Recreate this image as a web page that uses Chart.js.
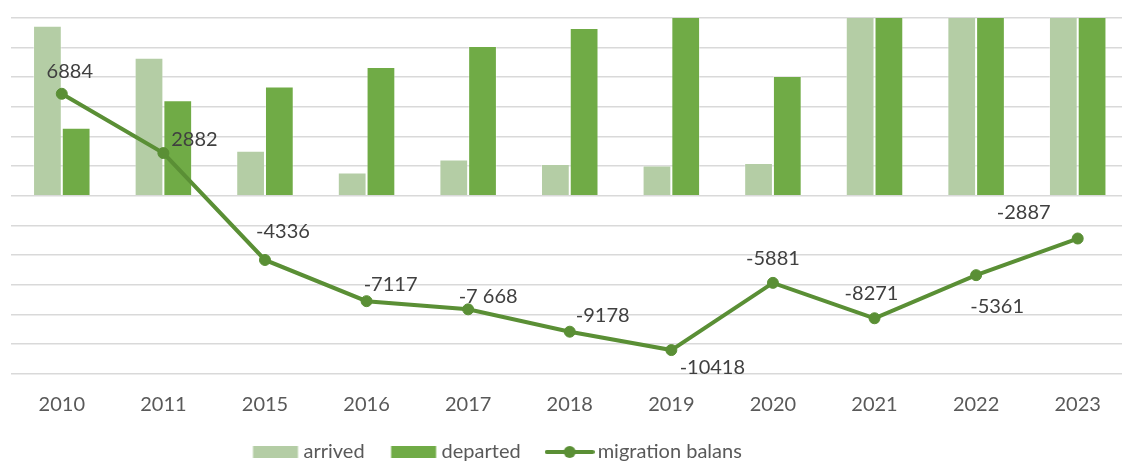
<!DOCTYPE html>
<html>
<head>
<meta charset="utf-8">
<script src="https://cdn.jsdelivr.net/npm/chart.js@4.4.0/dist/chart.umd.min.js"></script>
<style>
  html, body { margin: 0; padding: 0; background: #fff; overflow: hidden; }
</style>
</head>
<body>
<canvas id="migrationChart" width="1135" height="462"></canvas>
<script>
// data
let years = ["2010", "2011", "2015", "2016", "2017", "2018", "2019", "2020", "2021", "2022", "2023"];
let arrived = [11480, 9322, 3040, 1577, 2450, 2140, 2050, 2205, 14500, 15200, 16800];
let departed = [4596, 6440, 7376, 8694, 10118, 11318, 12468, 8086, 22771, 20561, 19687];
let balans = [6884, 2882, -4336, -7117, -7668, -9178, -10418, -5881, -8271, -5361, -2887];
let balansText = ["6884", "2882", "-4336", "-7117", "-7 668", "-9178", "-10418", "-5881", "-8271", "-5361", "-2887"];

// where each value label sits relative to its point (dx, dy)
let labelOffsets = [[8, -22], [31, -14], [18, -28], [24, -17], [20, -13], [33, -16], [41, 17], [0, -24], [-3, -25], [21, 31], [-54, -26]];

const arrivedColor = '#b4cda5';
const departedColor = '#70ab46';
const lineColor = '#5a8f35';
const fontName = 'Lato';

function legendIcon(kind, color) {
    let c = document.createElement('canvas');
    c.width = 50;
    c.height = 14;
    let g = c.getContext('2d');
    if (kind === 'line') {
        g.strokeStyle = color;
        g.lineWidth = 4;
        g.lineCap = 'round';
        g.beginPath();
        g.moveTo(2, 7);
        g.lineTo(48, 7);
        g.stroke();
        g.fillStyle = color;
        g.beginPath();
        g.arc(25, 7, 6, 0, Math.PI * 2);
        g.fill();
    } else {
        g.fillStyle = color;
        g.fillRect(2.5, 1, 45, 12);
    }
    return c;
}

const icons = [legendIcon('box', arrivedColor), legendIcon('box', departedColor), legendIcon('line', lineColor)];

const balansLabels = {
    id: 'balansLabels',
    afterDatasetsDraw(chart) {
        let meta = chart.getDatasetMeta(2);
        let ctx = chart.ctx;
        ctx.save();
        ctx.font = '20px ' + fontName;
        ctx.fillStyle = '#404040';
        ctx.textAlign = 'center';
        ctx.textBaseline = 'middle';
        meta.data.forEach((pt, i) => {
            let off = labelOffsets[i];
            ctx.fillText(balansText[i], pt.x + off[0], pt.y + off[1]);
        });
        ctx.restore();
    }
};

// the legend in the picture is not centred on the canvas
const legendStart = 257.5;
const legendShift = {
    id: 'legendShift',
    afterLayout(chart) {
        let lg = chart.legend;
        lg.left = legendStart - lg.options.labels.padding;
    }
};

let ctx = document.getElementById('migrationChart').getContext('2d');

let migrationChart = new Chart(ctx, {
    type: 'bar',
    data: {
        labels: years,
        datasets: [{
            label: 'arrived',
            data: arrived,
            backgroundColor: arrivedColor,
            borderColor: 'rgba(255,255,255,0.35)',
            borderWidth: 1,
            order: 1
        },
        {
            label: 'departed',
            data: departed,
            backgroundColor: departedColor,
            borderColor: 'rgba(255,255,255,0.35)',
            borderWidth: 1,
            order: 1
        },
        {
            type: 'line',
            label: 'migration balans',
            data: balans,
            borderColor: lineColor,
            backgroundColor: lineColor,
            borderWidth: 4,
            pointRadius: 5.5,
            pointBorderWidth: 1,
            pointBackgroundColor: lineColor,
            pointBorderColor: lineColor,
            tension: 0,
            order: 0
        }
        ]
    },
    options: {
        responsive: false,
        animation: false,
        layout: {
            padding: { top: 18, left: 11, right: 3, bottom: -10 }
        },
        datasets: {
            bar: {
                categoryPercentage: 0.566,
                barPercentage: 1
            }
        },
        scales: {
            x: {
                grid: { display: false },
                border: { display: false },
                ticks: {
                    color: '#595959',
                    padding: 11,
                    font: { family: fontName, size: 20 }
                },
                afterFit: function (scale) {
                    scale.height -= 16.5;
                }
            },
            y: {
                min: -12000,
                max: 12000,
                border: { display: false },
                grid: { color: '#d9d9d9', lineWidth: 1.5, drawTicks: false },
                ticks: { display: false, stepSize: 2000 }
            }
        },
        plugins: {
            tooltip: { enabled: false },
            legend: {
                position: 'bottom',
                align: 'start',
                labels: {
                    usePointStyle: true,
                    pointStyleWidth: 36,
                    boxHeight: 12,
                    padding: 31,
                    color: '#595959',
                    font: { family: fontName, size: 20 },
                    generateLabels: function (chart) {
                        return chart.data.datasets.map((ds, i) => ({
                            text: ds.label,
                            fillStyle: ds.backgroundColor,
                            strokeStyle: ds.backgroundColor,
                            lineWidth: 0,
                            pointStyle: icons[i],
                            fontColor: '#595959',
                            hidden: !chart.isDatasetVisible(i),
                            datasetIndex: i
                        }));
                    }
                }
            }
        }
    },
    plugins: [balansLabels, legendShift]
});
</script>
</body>
</html>
